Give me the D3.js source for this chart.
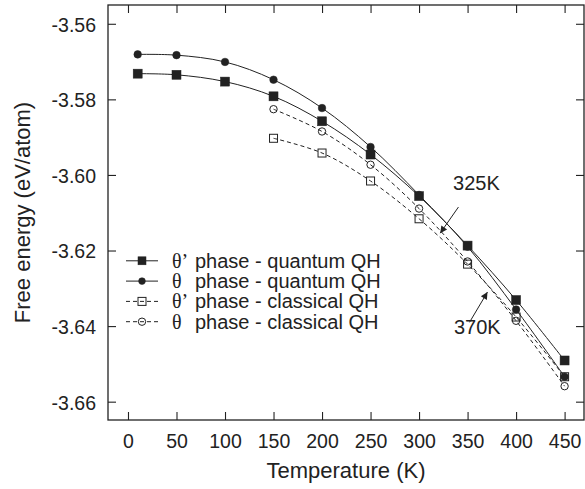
<!DOCTYPE html>
<html>
<head>
<meta charset="utf-8">
<script src="https://cdn.jsdelivr.net/npm/d3@7"></script>
<style>
  html, body { margin: 0; padding: 0; background: #fff; }
  svg { display: block; font-family: "Liberation Sans", Arial, Helvetica, sans-serif; }
</style>
</head>
<body>
<svg id="chart" width="585" height="489"></svg>
<script>
// ---- data ----
const tempsQuantum = [10, 50, 100, 150, 200, 250, 300, 350, 400, 450];
const thetaPrimeQuantum = [-3.5732, -3.5735, -3.5753, -3.5792, -3.5858, -3.5946, -3.6056, -3.6187, -3.6331, -3.6491];
const thetaQuantum      = [-3.5681, -3.5683, -3.5701, -3.5748, -3.5823, -3.5926, -3.6053, -3.6190, -3.6356, -3.6534];
const tempsClassical = [150, 200, 250, 300, 350, 400, 450];
const thetaPrimeClassical = [-3.5903, -3.5942, -3.6016, -3.6116, -3.6236, -3.6376, -3.6534];
const thetaClassical      = [-3.5826, -3.5885, -3.5973, -3.6089, -3.6229, -3.6386, -3.6559];
const xTicks = [0, 50, 100, 150, 200, 250, 300, 350, 400, 450];
const yTicks = [-3.56, -3.58, -3.60, -3.62, -3.64, -3.66];
const legendSymbols = ["\u03b8\u2019", "\u03b8", "\u03b8\u2019", "\u03b8"];
const legendLabels = ["phase - quantum QH", "phase - quantum QH", "phase - classical QH", "phase - classical QH"];
// annotations: [label, text anchor (T, E), arrow start (T, E), arrow tip (T, E)]
const annotLabels = ["325K", "370K"];
const annotText  = [[335, -3.6040], [336, -3.6420]];
const annotStart = [[340.6, -3.6085], [352, -3.6390]];
const annotTip   = [[321.8, -3.6154], [370.5, -3.6310]];

// ---- layout ----
const svg = d3.select("#chart");
const L = 108, R = 584, T = 5, B = 420;
const x = d3.scaleLinear().domain([-20.6, 470]).range([L, R]);
const y = d3.scaleLinear().domain([-3.66485, -3.55503]).range([B, T]);
const ink = "#222";

// axes (ticks inward on all sides)
const fmtY = d => d3.format(".2f")(d).replace("\u2212", "-");
const axB = svg.append("g").attr("transform", `translate(0,${B})`)
  .call(d3.axisBottom(x).tickValues(xTicks).tickSizeInner(-8).tickSizeOuter(0).tickPadding(14).tickFormat(d3.format("d")));
const axT = svg.append("g").attr("transform", `translate(0,${T})`)
  .call(d3.axisTop(x).tickValues(xTicks).tickSizeInner(-8).tickSizeOuter(0).tickFormat(""));
const axL = svg.append("g").attr("transform", `translate(${L},0)`)
  .call(d3.axisLeft(y).tickValues(yTicks).tickSizeInner(-8).tickSizeOuter(0).tickPadding(12).tickFormat(fmtY));
const axR = svg.append("g").attr("transform", `translate(${R},0)`)
  .call(d3.axisRight(y).tickValues(yTicks).tickSizeInner(-8).tickSizeOuter(0).tickFormat(""));
[axB, axT, axL, axR].forEach(g => {
  g.select(".domain").remove();
  g.selectAll(".tick line").attr("stroke", ink).attr("stroke-width", 1.1);
  g.selectAll("text").attr("fill", ink).style("font-size", "19.5px");
});
axL.selectAll("text").attr("dy", "0.38em");

// frame
svg.append("rect").attr("x", L).attr("y", T).attr("width", R - L).attr("height", B - T)
  .attr("fill", "none").attr("stroke", ink).attr("stroke-width", 1.3);

// axis titles
svg.append("text").attr("x", (L + R) / 2).attr("y", 478).attr("text-anchor", "middle")
  .attr("fill", ink).style("font-size", "22px").text("Temperature (K)");
svg.append("text").attr("transform", `translate(30,${(T + B) / 2}) rotate(-90)`).attr("text-anchor", "middle")
  .attr("fill", ink).style("font-size", "22px").text("Free energy (eV/atom)");

// series
const series = [
  { t: tempsQuantum, v: thetaPrimeQuantum, dash: null, marker: "square", filled: true },
  { t: tempsQuantum, v: thetaQuantum, dash: null, marker: "circle", filled: true },
  { t: tempsClassical, v: thetaPrimeClassical, dash: "4,3", marker: "square", filled: false },
  { t: tempsClassical, v: thetaClassical, dash: "4,3", marker: "circle", filled: false },
];
const line = d3.line().x(d => x(d[0])).y(d => y(d[1])).curve(d3.curveCatmullRom.alpha(0.5));

function drawMarker(g, cx, cy, s, legend) {
  if (s.marker === "square") {
    const sz = s.filled ? (legend ? 8 : 9) : 8;
    g.append("rect").attr("x", cx - sz / 2).attr("y", cy - sz / 2).attr("width", sz).attr("height", sz)
      .attr("fill", s.filled ? ink : "none").attr("stroke", ink).attr("stroke-width", s.filled ? 0.5 : 1);
  } else {
    const r = s.filled ? (legend ? 3.4 : 3.8) : 3.7;
    g.append("circle").attr("cx", cx).attr("cy", cy).attr("r", r)
      .attr("fill", s.filled ? ink : "none").attr("stroke", ink).attr("stroke-width", s.filled ? 0.5 : 1);
  }
}

series.forEach(s => {
  const pts = s.t.map((t, i) => [t, s.v[i]]);
  svg.append("path").attr("d", line(pts)).attr("fill", "none").attr("stroke", ink)
    .attr("stroke-width", 1).attr("stroke-dasharray", s.dash);
  const g = svg.append("g");
  pts.forEach(p => drawMarker(g, x(p[0]), y(p[1]), s, false));
});

// legend
const lg = svg.append("g");
series.forEach((s, i) => {
  const ly = 260.8 + i * 20.3;
  lg.append("line").attr("x1", 126).attr("x2", 158).attr("y1", ly).attr("y2", ly)
    .attr("stroke", ink).attr("stroke-width", 1).attr("stroke-dasharray", s.dash);
  drawMarker(lg, 142, ly, s, true);
  lg.append("text").attr("x", 172).attr("y", ly + 7).attr("fill", ink).style("font-size", "20px")
    .style("font-family", "'Liberation Serif', 'DejaVu Serif', serif").text(legendSymbols[i]);
  lg.append("text").attr("x", 195).attr("y", ly + 7).attr("fill", ink).style("font-size", "20px")
    .text(legendLabels[i]);
});

// annotations with arrows
const defs = svg.append("defs");
defs.append("marker").attr("id", "arrow").attr("viewBox", "0 0 10 10").attr("refX", 10).attr("refY", 5)
  .attr("markerWidth", 11).attr("markerHeight", 7).attr("markerUnits", "userSpaceOnUse").attr("orient", "auto")
  .append("path").attr("d", "M0,0 L10,5 L0,10 Z").attr("fill", ink);
annotLabels.forEach((lab, i) => {
  svg.append("text").attr("x", x(annotText[i][0])).attr("y", y(annotText[i][1])).attr("fill", ink)
    .style("font-size", "20px").text(lab);
  svg.append("line").attr("x1", x(annotStart[i][0])).attr("y1", y(annotStart[i][1]))
    .attr("x2", x(annotTip[i][0])).attr("y2", y(annotTip[i][1]))
    .attr("stroke", ink).attr("stroke-width", 1).attr("marker-end", "url(#arrow)");
});
</script>
</body>
</html>
